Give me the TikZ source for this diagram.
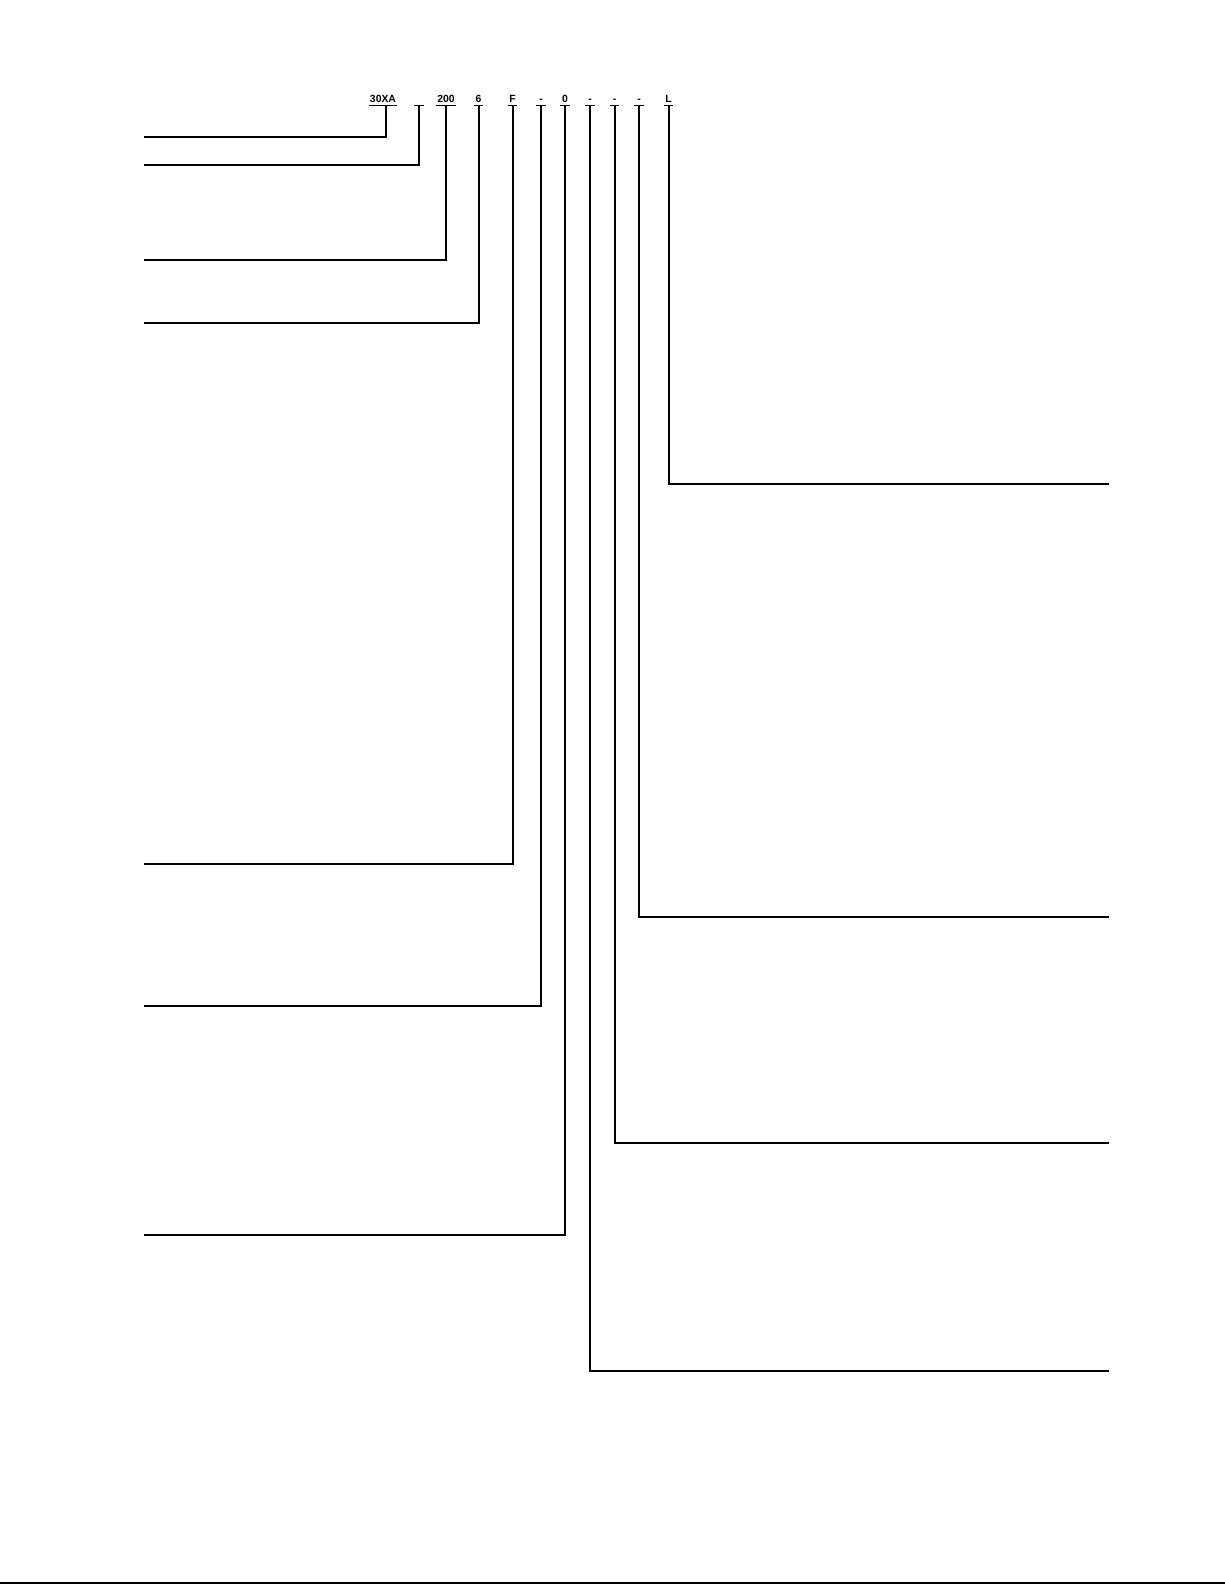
\documentclass[tikz,border=0pt]{standalone}
\usepackage{fontspec}
\setmainfont{Liberation Sans}
\begin{document}
\begin{tikzpicture}[x=1pt,y=-1pt,
  code/.style={font=\bfseries\fontsize{10.4}{12}\selectfont, inner xsep=1pt, inner ysep=2.5pt,
    text height=7.6pt, text depth=0pt, minimum width=9pt, anchor=south},
  ul/.style={line width=1.6pt},
  lead/.style={line width=2pt, line join=miter}]
\useasboundingbox[fill=white] (0,0) rectangle (1225,1585);
% code letters
\node[code] (c1)  at (383,105.5) {30XA};
\node[code] (c2)  at (419,105.5) {};
\node[code] (c3)  at (446,105.5) {200};
\node[code] (c4)  at (478.5,105.5) {6};
\node[code] (c5)  at (512.5,105.5) {F};
\node[code] (c6)  at (541,105.5) {-};
\node[code] (c7)  at (565,105.5) {0};
\node[code] (c8)  at (590,105.5) {-};
\node[code] (c9)  at (614.5,105.5) {-};
\node[code] (c10) at (639,105.5) {-};
\node[code] (c11) at (668.5,105.5) {L};
% underlines
\foreach \i in {1,...,11} {\draw[ul] (c\i.south west) -- (c\i.south east);}
% free ends of the leaders
\coordinate (e1)  at (144,136.5);
\coordinate (e2)  at (144,164.5);
\coordinate (e3)  at (144,259.5);
\coordinate (e4)  at (144,323);
\coordinate (e5)  at (144,864);
\coordinate (e6)  at (144,1005.5);
\coordinate (e7)  at (144,1235);
\coordinate (e8)  at (1108.5,1371);
\coordinate (e9)  at (1108.5,1143);
\coordinate (e10) at (1108.5,916.5);
\coordinate (e11) at (1108.5,484);
\draw[lead] ([xshift=2.5pt]c1.south) |- (e1);
\foreach \i in {2,...,11} {\draw[lead] (c\i.south) |- (e\i);}
% bottom rule
\coordinate (b1) at (0,1583);
\coordinate (b2) at (1225,1583);
\draw[line width=2pt] (b1) -- (b2);
\end{tikzpicture}
\end{document}
